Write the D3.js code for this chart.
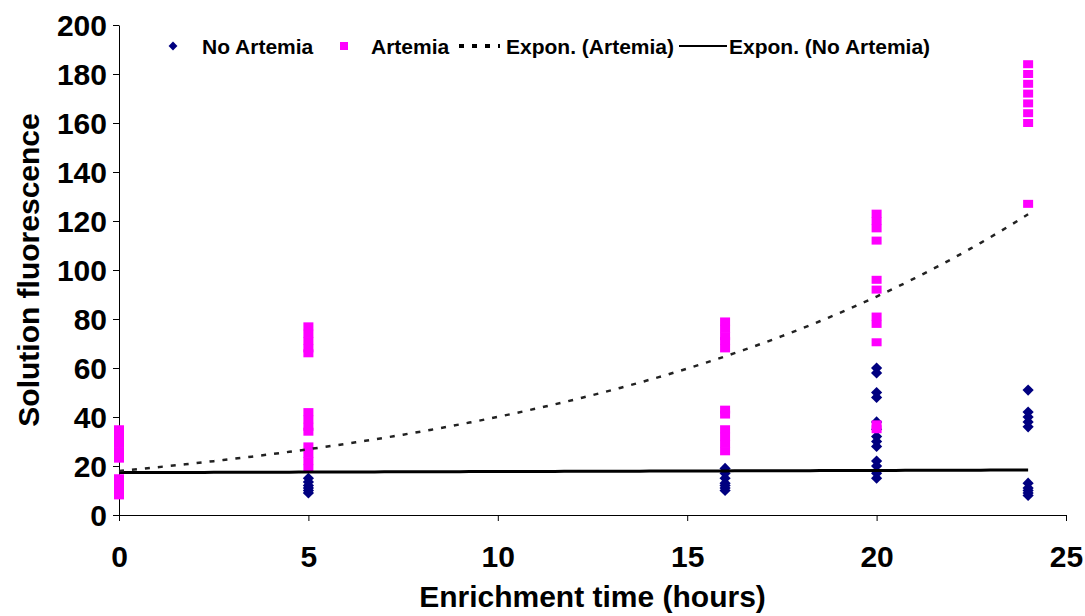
<!DOCTYPE html>
<html>
<head>
<meta charset="utf-8">
<script src="https://cdn.jsdelivr.net/npm/d3@7"></script>
<style>
  body { margin: 0; background: #ffffff; }
  svg text { font-family: "Liberation Sans", Arial, sans-serif; font-weight: bold; fill: #000; }
  .axis path, .axis line { stroke: #000; stroke-width: 1; }
</style>
</head>
<body>
<div id="chart"></div>
<script>
// tidpunkter (timmar) och mätvärden per tidpunkt
var times = [0, 5, 16, 20, 24];

var artemiaValues = [
    [35, 32, 29, 26, 23, 15, 12, 10, 8],
    [77, 74, 71, 68, 66, 42, 39, 36, 34, 28, 25, 22, 19],
    [79, 76, 73, 71, 68, 43, 41, 35, 32, 29, 26],
    [123, 120, 117, 112, 96, 92, 81, 78, 70.5, 37, 35],
    [184, 180, 176, 172, 168, 164, 160, 127]
];

var noArtemiaValues = [
    [],
    [15, 13.5, 12, 11, 10, 9],
    [19, 17, 15, 13, 12, 11, 10],
    [60, 58, 50, 48, 38, 35, 32, 30, 28, 22, 20, 17, 15],
    [51, 42, 40, 38, 36, 13, 11, 10, 9, 8]
];

// trendlinjer (exponentiella): y = a * e^(b*x)
var trendArtemia = { a: 18, b: 0.08 };
var trendNoArtemia = { a: 17.3, b: 0.0025 };

var xTicks = [0, 5, 10, 15, 20, 25];
var yTicks = [0, 20, 40, 60, 80, 100, 120, 140, 160, 180, 200];

var legendLabels = ["No Artemia", "Artemia", "Expon. (Artemia)", "Expon. (No Artemia)"];

var width = 1085, height = 616;
var padding = { top: 25, right: 19, bottom: 101, left: 119 };

var svg = d3.select("#chart").append("svg")
    .attr("width", width)
    .attr("height", height);

var xScale = d3.scaleLinear().domain([0, 25]).range([padding.left, width - padding.right]);
var yScale = d3.scaleLinear().domain([0, 200]).range([height - padding.bottom, padding.top]);

// axlar
var yAxis = svg.append("g")
    .attr("class", "axis")
    .attr("transform", "translate(" + padding.left + ",0)")
    .call(d3.axisLeft(yScale).tickValues(yTicks).tickSize(6).tickSizeOuter(0).tickPadding(6));
yAxis.selectAll("text").style("font-size", "30px").attr("dy", "0.36em");

var xAxis = svg.append("g")
    .attr("class", "axis")
    .attr("transform", "translate(0," + (height - padding.bottom) + ")")
    .call(d3.axisBottom(xScale).tickValues(xTicks).tickSize(6).tickSizeOuter(0).tickPadding(25));
xAxis.selectAll("text").style("font-size", "30px");

svg.append("text")
    .attr("transform", "translate(39," + yScale(100) + ") rotate(-90)")
    .attr("text-anchor", "middle")
    .style("font-size", "30px")
    .text("Solution fluorescence");

svg.append("text")
    .attr("x", (xScale(0) + xScale(25)) / 2)
    .attr("y", 607)
    .attr("text-anchor", "middle")
    .style("font-size", "30px")
    .text("Enrichment time (hours)");

// punkter
function flatten(values) {
    var out = [];
    times.forEach(function(t, i) {
        values[i].forEach(function(v) { out.push({ time: t, value: v }); });
    });
    return out;
}

var diamond = d3.symbol().type(d3.symbolDiamond2).size(80);

svg.append("g").selectAll("path")
    .data(flatten(noArtemiaValues))
    .enter().append("path")
    .attr("d", diamond)
    .attr("transform", function(d) { return "translate(" + xScale(d.time) + "," + yScale(d.value) + ")"; })
    .attr("fill", "#000080");

svg.append("g").selectAll("rect")
    .data(flatten(artemiaValues))
    .enter().append("rect")
    .attr("x", function(d) { return xScale(d.time) - 5; })
    .attr("y", function(d) { return yScale(d.value) - 4; })
    .attr("width", 10)
    .attr("height", 8)
    .attr("fill", "#ff00ff");

// trendlinjer
function trendPoints(tr) {
    return d3.range(0, 24.01, 0.25).map(function(x) { return { time: x, value: tr.a * Math.exp(tr.b * x) }; });
}
var line = d3.line()
    .x(function(d) { return xScale(d.time); })
    .y(function(d) { return yScale(d.value); });

svg.append("path")
    .datum(trendPoints(trendNoArtemia))
    .attr("fill", "none")
    .attr("stroke", "#000")
    .attr("stroke-width", 3)
    .attr("d", line);

svg.append("path")
    .datum(trendPoints(trendArtemia))
    .attr("fill", "none")
    .attr("stroke", "#222")
    .attr("stroke-width", 2.5)
    .attr("stroke-dasharray", "5,8")
    .attr("d", line);

// legend
var legend = svg.append("g").style("font-size", "21px");
var ly = 46;

legend.append("path")
    .attr("d", d3.symbol().type(d3.symbolDiamond2).size(50))
    .attr("transform", "translate(173," + ly + ")")
    .attr("fill", "#000080");
legend.append("text").attr("x", 202).attr("y", ly).attr("dy", "0.36em").text(legendLabels[0]);

legend.append("rect").attr("x", 340).attr("y", ly - 4).attr("width", 8).attr("height", 8).attr("fill", "#ff00ff");
legend.append("text").attr("x", 371).attr("y", ly).attr("dy", "0.36em").text(legendLabels[1]);

legend.append("line").attr("x1", 459).attr("x2", 500).attr("y1", ly).attr("y2", ly)
    .attr("stroke", "#000").attr("stroke-width", 4).attr("stroke-dasharray", "5,8");
legend.append("text").attr("x", 506).attr("y", ly).attr("dy", "0.36em").text(legendLabels[2]);

legend.append("line").attr("x1", 679).attr("x2", 727).attr("y1", ly).attr("y2", ly)
    .attr("stroke", "#000").attr("stroke-width", 2);
legend.append("text").attr("x", 729).attr("y", ly).attr("dy", "0.36em").text(legendLabels[3]);
</script>
</body>
</html>
